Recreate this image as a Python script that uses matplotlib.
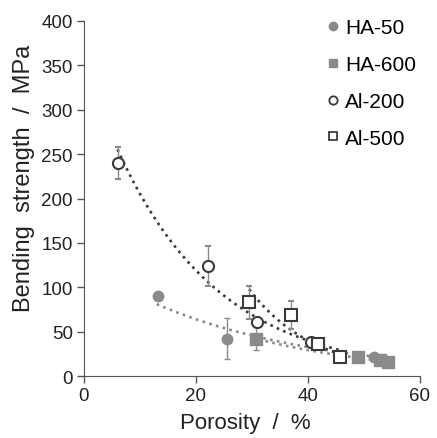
import numpy as np
import matplotlib
matplotlib.use('Agg')
import matplotlib.pyplot as plt
from matplotlib.lines import Line2D

plt.rcParams['font.family'] = ['Liberation Sans', 'DejaVu Sans']

# data
ha50_x = [13.2, 25.5, 40.6, 51.8]
ha50_y = [90, 42, 38, 21]
ha50_err = [0, 23, 0, 0]

ha600_x = [30.7, 49.0, 52.8, 54.3]
ha600_y = [42, 21, 18, 16]
ha600_err = [13, 0, 0, 0]

al200_x = [6.0, 22.1, 30.9, 40.6]
al200_y = [240, 124, 61, 38]
al200_err = [18, 23, 5, 3]

al500_x = [29.5, 37.0, 41.8, 45.7]
al500_y = [83, 69, 36, 21]
al500_err = [19, 16, 3, 2]

light = '#8a8a8a'
dark = '#3a3a3a'


def exp_fit(x, y, x0, x1):
    b, a = np.polyfit(x, np.log(y), 1)
    xs = np.linspace(x0, x1, 200)
    return xs, np.exp(a + b * xs)


fig = plt.figure(figsize=(4.37, 4.39), dpi=100)
ax = fig.add_axes([0.192, 0.141, 0.769, 0.809])

# fitted trend lines
xs, ys = exp_fit(ha50_x, ha50_y, 13, 54)
ax.plot(xs, ys, ':', color=light, lw=1.9, zorder=1)
xs, ys = exp_fit(ha600_x, ha600_y, 30, 54)
ax.plot(xs, ys, ':', color=light, lw=1.9, zorder=1)
xs, ys = exp_fit(al200_x, al200_y, 6, 46)
ax.plot(xs, ys, ':', color=dark, lw=1.9, zorder=1)
xs, ys = exp_fit(al500_x, al500_y, 29.5, 46)
ax.plot(xs, ys, ':', color=dark, lw=1.9, zorder=1)

ax.errorbar(ha50_x, ha50_y, yerr=ha50_err, fmt='o', color=light, ms=7.5,
            ecolor=light, elinewidth=1, capsize=2.5, zorder=3)
ax.errorbar(ha600_x, ha600_y, yerr=ha600_err, fmt='s', color=light, ms=8.5,
            ecolor=light, elinewidth=1, capsize=2.5, zorder=3)
ax.errorbar(al200_x, al200_y, yerr=al200_err, fmt='o', mfc='white', mec=dark,
            mew=1.5, ms=8, ecolor=light, elinewidth=1, capsize=2.5, zorder=4)
ax.errorbar(al500_x, al500_y, yerr=al500_err, fmt='s', mfc='white', mec=dark,
            mew=1.5, ms=8, ecolor=light, elinewidth=1, capsize=2.5, zorder=4)

ax.set_xlim(0, 60)
ax.set_ylim(0, 400)
ax.set_xticks([0, 20, 40, 60])
ax.set_yticks(range(0, 401, 50))
ax.spines['top'].set_visible(False)
ax.spines['right'].set_visible(False)
for s in ['left', 'bottom']:
    ax.spines[s].set_color('#555555')
ax.tick_params(labelsize=13.5, colors='#555555', labelcolor='#222222',
               length=5, width=1, pad=3)

ax.set_xlabel('Porosity  /  %', fontsize=16, color='#222222')
ax.set_ylabel('Bending  strength  /  MPa', fontsize=17, color='#222222')
ax.xaxis.set_label_coords(0.48, -0.1)
ax.yaxis.set_label_coords(-0.145, 0.56)

handles = [
    Line2D([], [], ls='', marker='o', color=light, ms=6),
    Line2D([], [], ls='', marker='s', color=light, ms=6),
    Line2D([], [], ls='', marker='o', mfc='white', mec=dark, mew=1.3, ms=6),
    Line2D([], [], ls='', marker='s', mfc='white', mec=dark, mew=1.3, ms=6),
]
labels = ['HA-50', 'HA-600', 'Al-200', 'Al-500']
ax.legend(handles, labels, loc='upper right', bbox_to_anchor=(1.0, 1.02),
          frameon=False, fontsize=15, handletextpad=0.05, handlelength=1.0,
          labelspacing=0.86, borderaxespad=0.0, borderpad=0.2)

fig.savefig('out.png', dpi=100)
